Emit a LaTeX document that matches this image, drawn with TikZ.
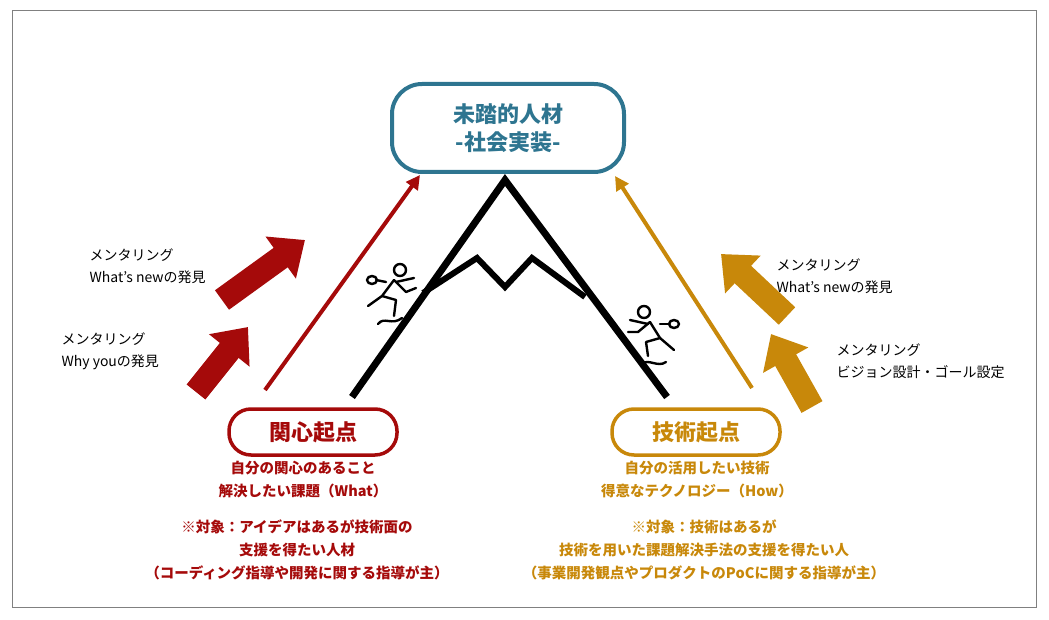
\documentclass[tikz,border=0pt]{standalone}
\usepackage{fontspec}
\setmainfont{Noto Sans CJK JP}
\usetikzlibrary{arrows.meta, positioning}
\definecolor{teal}{HTML}{2E7590}
\definecolor{dred}{HTML}{A50A0A}
\definecolor{gold}{HTML}{C8880A}
\begin{document}
\begin{tikzpicture}[x=1pt, y=-1pt,
        goal/.style={rectangle, rounded corners=30pt, draw=teal, line width=4pt, minimum width=232pt, minimum height=88pt, align=center, text=teal, font=\fontsize{22}{28}\selectfont\bfseries},
        origin/.style={rectangle, rounded corners=22pt, line width=3.5pt, minimum width=168pt, minimum height=46pt, font=\fontsize{22}{26}\selectfont\bfseries},
        note/.style={align=center, font=\fontsize{14.5}{23}\selectfont\bfseries},
        ment/.style={align=left, anchor=west, font=\fontsize{14}{22}\selectfont},
        path/.style={line width=4pt, -{Triangle[length=14pt, width=14pt]}},
        push/.style={line width=24pt, -{Triangle[length=30pt, width=50pt]}},
        climber/.style={line width=2.4pt, line cap=round, line join=round}]

        \useasboundingbox (0,0) rectangle (1049,620);
        \draw[gray, line width=0.8pt] (12,10) rectangle (1036,607);

        % Nodes
        \node[goal] (goal) at (508,128) {未踏的人材\\-社会実装-};
        \node[origin, draw=dred, text=dred] (interest) at (313,432) {関心起点};
        \node[origin, draw=gold, text=gold] (tech) at (696,432) {技術起点};

        \node[note, text=dred] (interestA) at (303,480) {自分の関心のあること\\解決したい課題（What）};
        \node[note, text=dred] (interestB) at (297,550) {※対象：アイデアはあるが技術面の\\支援を得たい人材\\（コーディング指導や開発に関する指導が主）};
        \node[note, text=gold] (techA) at (697,480) {自分の活用したい技術\\得意なテクノロジー（How）};
        \node[note, text=gold] (techB) at (704,550) {※対象：技術はあるが\\技術を用いた課題解決手法の支援を得たい人\\（事業開発観点やプロダクトのPoCに関する指導が主）};

        \node[ment] (mentWhat) at (86,266) {メンタリング\\What’s newの発見};
        \node[ment] (mentWhy) at (58,351) {メンタリング\\Why youの発見};
        \node[ment] (mentNew) at (773,276) {メンタリング\\What’s newの発見};
        \node[ment] (mentGoal) at (833,361) {メンタリング\\ビジョン設計・ゴール設定};

        % Mountain
        \draw[line width=7pt, line join=miter] (352,397) -- (505,180) -- (667,397);
        \draw[line width=6pt, line join=miter] (423,293) -- (477,258) -- (505,287) -- (532,258) -- (585,297);

        % Edges
        \coordinate (redTail) at (265,390);
        \coordinate (redHead) at (420,175);
        \coordinate (goldTail) at (752,388);
        \coordinate (goldHead) at (615,176);
        \draw[path, dred] (redTail) -- (redHead);
        \draw[path, gold] (goldTail) -- (goldHead);

        \draw[push, dred] (196,392) -- (248,327);
        \draw[push, dred] (222,300) -- (305,240);
        \draw[push, gold] (812,407) -- (771,334);
        \draw[push, gold] (787,316) -- (721,254);

        % Climbers
        \begin{scope}[climber, shift={(392,294)}]
            \draw (8,-24) circle (6);
            \draw (2,-14) -- (-10,2) -- (-24,12);
            \draw (-10,2) -- (4,6) -- (2,22);
            \draw (2,-14) -- (14,-2) -- (24,-6);
            \draw (4,-12) -- (22,-16);
            \draw (-6,-12) -- (-16,-14);
            \draw (-20,-14) ellipse (5 and 4);
            \draw (-14,30) .. controls (-8,22) and (0,32) .. (10,24);
        \end{scope}
        \begin{scope}[climber, shift={(652,334)}]
            \draw (-8,-22) circle (6);
            \draw (-2,-12) -- (8,4) -- (22,16);
            \draw (8,4) -- (-6,8) -- (-4,22);
            \draw (-2,-12) -- (-14,-2) -- (-24,-2);
            \draw (-4,-10) -- (-22,-14);
            \draw (8,-10) -- (18,-10);
            \draw (22,-10) ellipse (5 and 4);
            \draw (-10,30) .. controls (-4,24) and (6,34) .. (14,28);
        \end{scope}
    \end{tikzpicture}
\end{document}
